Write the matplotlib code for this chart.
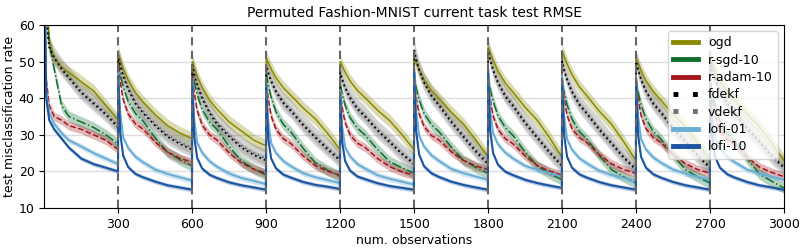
import numpy as np
import matplotlib
matplotlib.use("Agg")
import matplotlib.pyplot as plt
from matplotlib.lines import Line2D

# checkpoints (observations into each task) at which values were read
OFFSETS = [0, 8, 20, 40, 70, 100, 150, 200, 250, 299]
TASK_LEN = 300
N_TASKS = 10

ogd = [
    [80, 70, 56, 51, 48.5, 47, 44.5, 42, 38, 34],
    [52, 50.5, 48, 45, 41.5, 39, 35.5, 32.5, 30.5, 29],
    [50, 48.5, 46, 43, 39.5, 37, 33.5, 31, 28.5, 27],
    [51, 49.8, 48, 45.5, 42.8, 40.8, 37.3, 34.3, 30.3, 26],
    [50, 48.8, 47.1, 44.7, 42.1, 40.2, 36.8, 33.9, 30.1, 26],
    [51, 49.7, 47.8, 45.1, 42.1, 39.9, 36.2, 32.9, 28.6, 24],
    [54, 52.5, 50.4, 47.4, 44.1, 41.7, 37.5, 33.9, 29.1, 24],
    [53, 51.5, 49.4, 46.4, 43.1, 40.7, 36.5, 32.9, 28.1, 23],
    [51, 49.6, 47.6, 44.8, 41.8, 39.5, 35.6, 32.2, 27.8, 23],
    [51, 49.6, 47.6, 44.8, 41.8, 39.5, 35.6, 32.2, 27.8, 23],
]
r_sgd = [
    [80, 66, 55, 48, 38, 35, 33.5, 32, 30, 27.5],
    [50, 46.6, 43.2, 39.2, 35.8, 33.8, 29.2, 25.2, 23.2, 21.5],
    [48, 44.5, 41, 37, 33.5, 31.5, 26.8, 22.8, 20.7, 19],
    [47, 43.6, 40.2, 36.2, 32.8, 30.8, 26.3, 22.3, 20.3, 18.6],
    [44, 41.1, 38.1, 34.7, 31.8, 30, 26.1, 22.7, 21, 19.5],
    [46, 42.8, 39.6, 35.9, 32.8, 30.9, 26.7, 23, 21.1, 19.5],
    [46, 42.6, 39.2, 35.2, 31.9, 29.9, 25.3, 21.4, 19.4, 17.7],
    [45, 41.6, 38.2, 34.3, 30.9, 28.9, 24.4, 20.5, 18.5, 16.8],
    [45, 41.6, 38.2, 34.3, 30.9, 28.9, 24.4, 20.5, 18.5, 16.8],
    [45, 41.5, 37.9, 33.8, 30.3, 28.2, 23.5, 19.3, 17.3, 15.5],
]
r_adam = [
    [75, 45, 38, 35, 34, 32.5, 31.5, 30, 28.5, 26],
    [50, 44.5, 39.6, 35.7, 33, 31.6, 28, 25.3, 23.6, 22.5],
    [47, 41.5, 36.6, 32.7, 30, 28.6, 25, 22.3, 20.6, 19.5],
    [45, 39.8, 35.1, 31.5, 28.9, 27.6, 24.2, 21.6, 20, 19],
    [42, 37.4, 33.3, 30, 27.7, 26.6, 23.6, 21.3, 19.9, 19],
    [45, 40.1, 35.7, 32.3, 29.8, 28.6, 25.4, 23, 21.5, 20.5],
    [45, 39.8, 35.1, 31.5, 28.9, 27.6, 24.2, 21.6, 20, 19],
    [45, 39.9, 35.3, 31.7, 29.2, 27.9, 24.6, 22.1, 20.5, 19.5],
    [45, 39.9, 35.3, 31.7, 29.2, 27.9, 24.6, 22.1, 20.5, 19.5],
    [45, 39.7, 35, 31.3, 28.6, 27.3, 23.9, 21.2, 19.7, 18.6],
]
fdekf = [
    [78, 62, 54, 51, 48, 45.5, 41.5, 38.5, 35.5, 32],
    [51, 49, 46, 42.5, 38.5, 36, 32.5, 29.5, 27.5, 26],
    [49, 46.5, 43.5, 40, 36, 33, 29.5, 26.5, 24.5, 23],
    [49, 46.9, 44.6, 41.7, 38.6, 36.5, 32.6, 29.2, 25.9, 23],
    [47, 45, 42.8, 40, 37, 35, 31.3, 28, 24.8, 22],
    [53, 50.5, 47.7, 44.3, 40.6, 38.1, 33.5, 29.4, 25.4, 22],
    [53, 50.5, 47.6, 44.2, 40.4, 37.9, 33.2, 29.1, 25, 21.5],
    [50, 47.6, 45, 41.7, 38.2, 35.8, 31.4, 27.6, 23.7, 20.5],
    [50, 47.7, 45.1, 41.9, 38.4, 36.1, 31.7, 28, 24.2, 21],
    [50, 47.7, 45.1, 41.9, 38.4, 36.1, 31.7, 28, 24.2, 21],
]
vdekf = [
    [76, 60, 54, 51.5, 48.5, 46, 42, 39, 36, 32.5],
    [52, 49.5, 46.5, 43, 39, 36.5, 33, 30, 28, 26.5],
    [49.5, 47, 44, 40.5, 36.5, 33.5, 30, 27, 25, 23.5],
    [49, 47.5, 45, 42, 39, 37, 33, 29.5, 26.5, 23.5],
    [47.5, 45.5, 43, 40.5, 37.5, 35.5, 31.5, 28.5, 25, 22.5],
    [53.5, 51, 48, 44.5, 41, 38.5, 34, 30, 26, 22.5],
    [53.5, 51, 48, 44.5, 41, 38.5, 33.5, 29.5, 25.5, 22],
    [50.5, 48, 45.5, 42, 38.5, 36, 32, 28, 24, 21],
    [50.5, 48, 45.5, 42, 39, 36.5, 32, 28.5, 24.5, 21.5],
    [50.5, 48, 45.5, 42, 39, 36.5, 32, 28.5, 24.5, 21.5],
]
lofi_01 = [
    [75, 42, 36, 33, 30.5, 28.5, 26.8, 25, 23.5, 22],
    [47, 35.8, 29.3, 26.4, 24, 22.5, 20.5, 19.3, 18.4, 17.5],
    [45, 34.2, 27.9, 25.1, 22.8, 21.3, 19.4, 18.2, 17.4, 16.5],
    [44, 33.7, 27.7, 25, 22.8, 21.4, 19.5, 18.4, 17.6, 16.8],
    [42, 32.3, 26.6, 24.1, 22, 20.8, 19, 18, 17.2, 16.4],
    [48, 36.5, 29.8, 26.8, 24.4, 22.9, 20.7, 19.5, 18.6, 17.7],
    [48, 36.8, 30.4, 27.4, 25.1, 23.6, 21.5, 20.4, 19.5, 18.6],
    [46, 35.1, 28.8, 25.9, 23.6, 22.2, 20.2, 19, 18.2, 17.3],
    [45.5, 35, 28.8, 26, 23.8, 22.4, 20.5, 19.4, 18.5, 17.7],
    [46, 35.2, 29, 26.2, 23.9, 22.5, 20.5, 19.4, 18.5, 17.7],
]
lofi_10 = [
    [75, 40, 34, 31.5, 29, 26.5, 23.5, 22, 21, 20],
    [46, 30.5, 24.3, 21.2, 19.3, 18.4, 17.2, 16.2, 15.6, 15],
    [44, 29.5, 23.7, 20.8, 19.1, 18.2, 17, 16.2, 15.6, 15],
    [43, 29.1, 23.5, 20.8, 19.1, 18.3, 17.1, 16.3, 15.8, 15.2],
    [41, 28, 22.8, 20.2, 18.6, 17.9, 16.8, 16, 15.5, 15],
    [47, 31, 24.6, 21.4, 19.5, 18.5, 17.2, 16.3, 15.6, 15],
    [47, 31.3, 25, 21.8, 19.9, 19, 17.7, 16.8, 16.1, 15.5],
    [45, 30, 24, 21, 19.2, 18.3, 17.1, 16.2, 15.6, 15],
    [45, 30, 24, 21, 19.2, 18.3, 17.1, 16.2, 15.6, 15],
    [45, 30, 24, 21, 19.2, 18.3, 17.1, 16.2, 15.6, 15],
]

# spread of the shaded band around each mean curve
band = {"ogd": 1.8, "r-sgd-10": 1.5, "r-adam-10": 1.2, "fdekf": 1.2,
        "vdekf": 2.5, "lofi-01": 0.8, "lofi-10": 0.6}

series = [
    ("ogd", ogd, "#8a8a00", "-", 1.1),
    ("r-sgd-10", r_sgd, "#0d6e2e", "-.", 1.1),
    ("r-adam-10", r_adam, "#a3161b", "--", 1.1),
    ("vdekf", vdekf, "#6e6e6e", ":", 1.3),
    ("fdekf", fdekf, "black", ":", 1.3),
    ("lofi-01", lofi_01, "#6aaed6", "-", 1.5),
    ("lofi-10", lofi_10, "#1b54a0", "-", 1.5),
]

xs = np.concatenate([TASK_LEN * k + np.array(OFFSETS) for k in range(N_TASKS)])

fig = plt.figure(figsize=(8.05, 2.5), dpi=100)
ax = fig.add_axes([0.055, 0.168, 0.919, 0.732])

for name, vals, color, ls, lw in series:
    y = np.concatenate([np.array(v, dtype=float) for v in vals])
    fill_c = "#777777" if name == "fdekf" else color
    ax.fill_between(xs, y - band[name], y + band[name], color=fill_c,
                    alpha=0.3, lw=0)
    ax.plot(xs, y, color=color, ls=ls, lw=lw)

for k in range(1, N_TASKS):
    ax.axvline(TASK_LEN * k, color="#666666", ls=(0, (4, 2.5)), lw=1.5)

ax.set_xlim(0, 3000)
ax.set_ylim(10, 60)
ax.set_xticks(np.arange(300, 3001, 300))
ax.set_yticks(np.arange(10, 61, 10))
ax.tick_params(labelsize=9)
ax.grid(axis="y", color="#dddddd", lw=1)
ax.set_axisbelow(True)
ax.set_xlabel("num. observations", fontsize=9, labelpad=2)
ax.set_ylabel("test misclassification rate", fontsize=9, labelpad=2)
ax.set_title("Permuted Fashion-MNIST current task test RMSE", fontsize=10)

handles = [
    Line2D([], [], color="#8a8a00", lw=3.5),
    Line2D([], [], color="#0d6e2e", lw=3.5),
    Line2D([], [], color="#a3161b", lw=3.5),
    Line2D([], [], color="black", lw=3.5, ls=(0, (1, 3))),
    Line2D([], [], color="#6e6e6e", lw=3.5, ls=(0, (1, 3))),
    Line2D([], [], color="#6aaed6", lw=3.5),
    Line2D([], [], color="#1b54a0", lw=3.5),
]
labels = ["ogd", "r-sgd-10", "r-adam-10", "fdekf", "vdekf", "lofi-01", "lofi-10"]
ax.legend(handles, labels, loc="upper right", fontsize=9, framealpha=0.8,
          labelspacing=0.35, handlelength=2.0)

fig.savefig("out.png", dpi=100)
